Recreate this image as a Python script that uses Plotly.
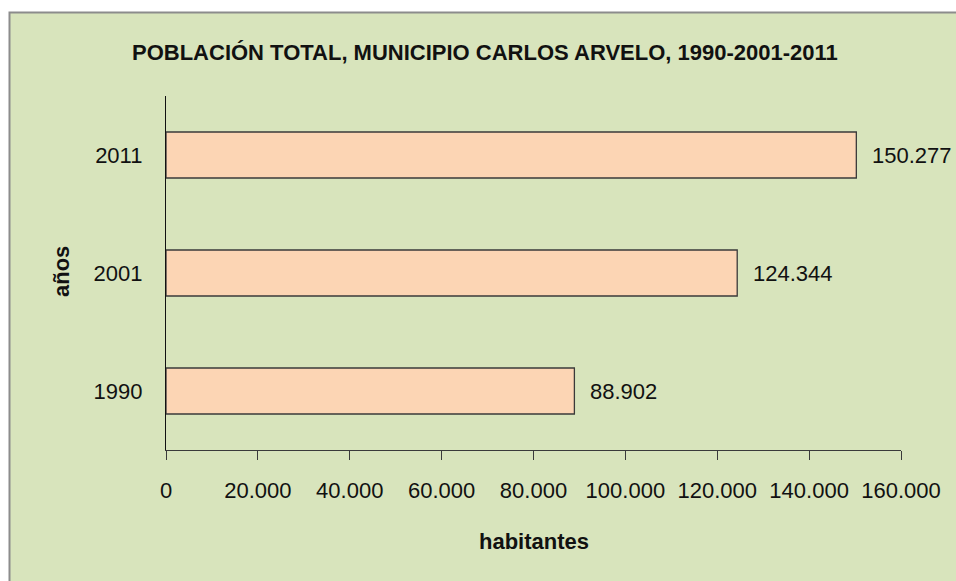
import plotly.graph_objects as go

years = ["1990", "2001", "2011"]
population = [88902, 124344, 150277]
x_ticks = [0, 20000, 40000, 60000, 80000, 100000, 120000, 140000, 160000]
title_text = "POBLACIÓN TOTAL, MUNICIPIO CARLOS ARVELO, 1990-2001-2011"
x_title = "habitantes"
y_title = "años"

W, H = 956, 581
L, R, T, B = 166, 55, 96, 131
pw, ph = W - L - R, H - T - B

def px_x(p):
    return (p - L) / pw

def px_y(p):
    return (H - B - p) / ph

FONT = "Liberation Sans, Arial, sans-serif"
FS = 22

def fmt(v):
    return f"{v:,}".replace(",", ".")

fig = go.Figure()
fig.add_trace(go.Bar(
    x=population, y=years, orientation="h",
    marker=dict(color="#fcd5b4", line=dict(color="#3a3a3a", width=1.3)),
    hoverinfo="skip",
))

for i, v in enumerate(population):
    fig.add_annotation(x=v, y=i, xref="x", yref="y", text=fmt(v),
                       showarrow=False, xanchor="left", yanchor="middle",
                       xshift=14, font=dict(family=FONT, size=FS, color="#111"))

fig.add_annotation(x=px_x(485), y=px_y(52), xref="paper", yref="paper",
                   text="<b>" + title_text + "</b>", showarrow=False,
                   xanchor="center", yanchor="middle",
                   font=dict(family=FONT, size=FS, color="#111"))
fig.add_annotation(x=px_x(534), y=px_y(541), xref="paper", yref="paper",
                   text="<b>" + x_title + "</b>", showarrow=False,
                   xanchor="center", yanchor="middle",
                   font=dict(family=FONT, size=FS, color="#111"))
fig.add_annotation(x=px_x(61), y=px_y(272), xref="paper", yref="paper",
                   text="<b>" + y_title + "</b>", showarrow=False, textangle=-90,
                   xanchor="center", yanchor="middle",
                   font=dict(family=FONT, size=FS, color="#111"))

fig.add_shape(type="rect", xref="paper", yref="paper",
              x0=px_x(9.5), x1=px_x(970), y0=px_y(12.5), y1=px_y(600),
              fillcolor="#d8e4bc", line=dict(color="#8c8c8c", width=2),
              layer="below")

fig.update_layout(
    width=W, height=H,
    margin=dict(l=L, r=R, t=T, b=B, autoexpand=False),
    paper_bgcolor="white", plot_bgcolor="rgba(0,0,0,0)",
    separators=",.",
    bargap=0.61,
    showlegend=False,
    font=dict(family=FONT, size=FS, color="#111"),
    xaxis=dict(range=[0, 160000], tickvals=x_ticks, tickformat=",d",
               tickangle=0,
               showgrid=False, zeroline=False, showline=True,
               linecolor="#3a3a3a", linewidth=1.3,
               ticks="outside", ticklen=9, tickcolor="#3a3a3a", tickwidth=1.3,
               ticklabelstandoff=11, fixedrange=True),
    yaxis=dict(type="category", categoryorder="array", categoryarray=years,
               range=[-0.5, len(years) - 0.5], autorange=False,
               showgrid=False, zeroline=False, showline=True,
               linecolor="#111", linewidth=1.3, ticks="",
               ticklabelstandoff=18, fixedrange=True),
)

fig.write_html("out.html", config={"displayModeBar": False},
               post_script="document.body.style.margin='0px';document.body.style.overflow='hidden';")
